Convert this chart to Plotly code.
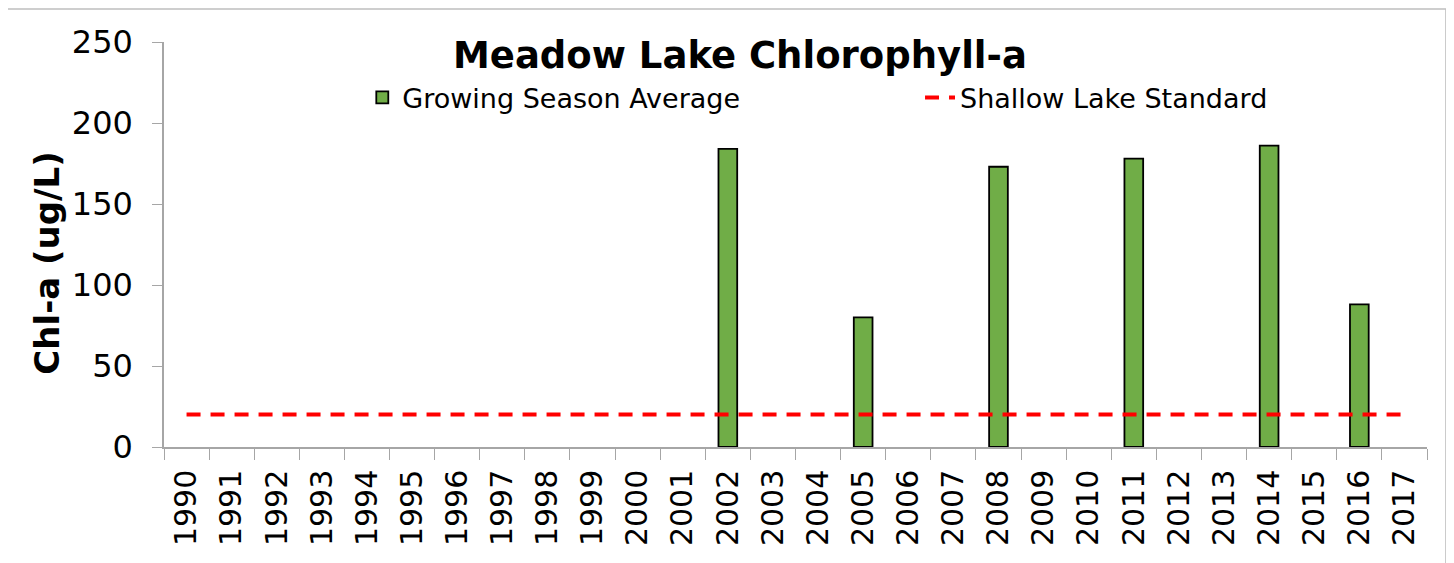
import plotly.graph_objects as go

# Meadow Lake growing-season chlorophyll-a (ug/L)
years = [str(y) for y in range(1990, 2018)]
sample_years = ["2002", "2005", "2008", "2011", "2014", "2016"]
chla_avg = [184, 80, 173, 178, 186, 88]
standard_value = 20
standard = [standard_value] * len(years)

FONT = "DejaVu Sans"
AXIS_GREY = "#A6A6A6"

fig = go.Figure()

# ── Growing season average bars ───────────────────────────────────────────
fig.add_trace(go.Bar(
    x=sample_years,
    y=chla_avg,
    name="Growing Season Average",
    marker=dict(color="#70AD47", line=dict(color="black", width=1.8)),
    showlegend=True,
    legend="legend",
))

# ── Shallow lake standard (dashed) ────────────────────────────────────────
fig.add_trace(go.Scatter(
    x=years,
    y=standard,
    mode="lines",
    name="Shallow Lake Standard",
    line=dict(color="#FF0000", width=4, dash="14px,10px"),
    showlegend=True,
    legend="legend2",
))

# outer chart border like the Excel chart area
fig.add_shape(
    type="rect", xref="paper", yref="paper",
    x0=-0.1259, x1=1.015, y0=-0.34, y1=1.0815,
    line=dict(color="#BFBFBF", width=1.5),
    fillcolor="rgba(0,0,0,0)",
)

# y-axis title sits a little below centre in the original, so use an annotation
fig.add_annotation(
    text="<b>Chl-a (ug/L)</b>",
    xref="paper", yref="paper",
    x=-0.0922, y=0.454,
    xanchor="center", yanchor="middle",
    textangle=-90,
    showarrow=False,
    font=dict(family=FONT, size=34, color="black"),
)

legend_style = dict(
    orientation="h",
    yanchor="middle", y=0.862,
    xanchor="left",
    font=dict(family=FONT, size=27, color="black"),
    bgcolor="rgba(0,0,0,0)",
)

fig.update_layout(
    title=dict(
        text="<b>Meadow Lake Chlorophyll-a</b>",
        font=dict(family=FONT, size=37, color="black"),
        x=0.5034, xanchor="center",
        y=0.9165, yanchor="middle",
    ),
    xaxis=dict(
        type="category",
        categoryorder="array",
        categoryarray=years,
        range=[-0.5, len(years) - 0.5],
        tickangle=-90,
        tickfont=dict(family=FONT, size=30, color="black"),
        ticklabelstandoff=9,
        ticks="outside",
        tickson="boundaries",
        ticklen=11,
        tickcolor=AXIS_GREY,
        showline=True,
        linecolor=AXIS_GREY,
        linewidth=1.5,
        showgrid=False,
        automargin=False,
    ),
    yaxis=dict(
        range=[0, 250],
        dtick=50,
        tickfont=dict(family=FONT, size=32, color="black"),
        ticklabelstandoff=13,
        ticks="outside",
        ticklen=10,
        tickcolor=AXIS_GREY,
        showline=True,
        linecolor=AXIS_GREY,
        linewidth=1.5,
        showgrid=False,
        zeroline=False,
        automargin=False,
    ),
    showlegend=True,
    legend=dict(legend_style, x=0.157),
    legend2=dict(legend_style, x=0.5986),
    bargap=0.585,
    plot_bgcolor="white",
    paper_bgcolor="white",
    # page body adds an 8px offset, so margins are shifted to compensate
    margin=dict(l=156, r=35, t=34, b=124),
    width=1454,
    height=563,
)

fig.write_html("out.html")
